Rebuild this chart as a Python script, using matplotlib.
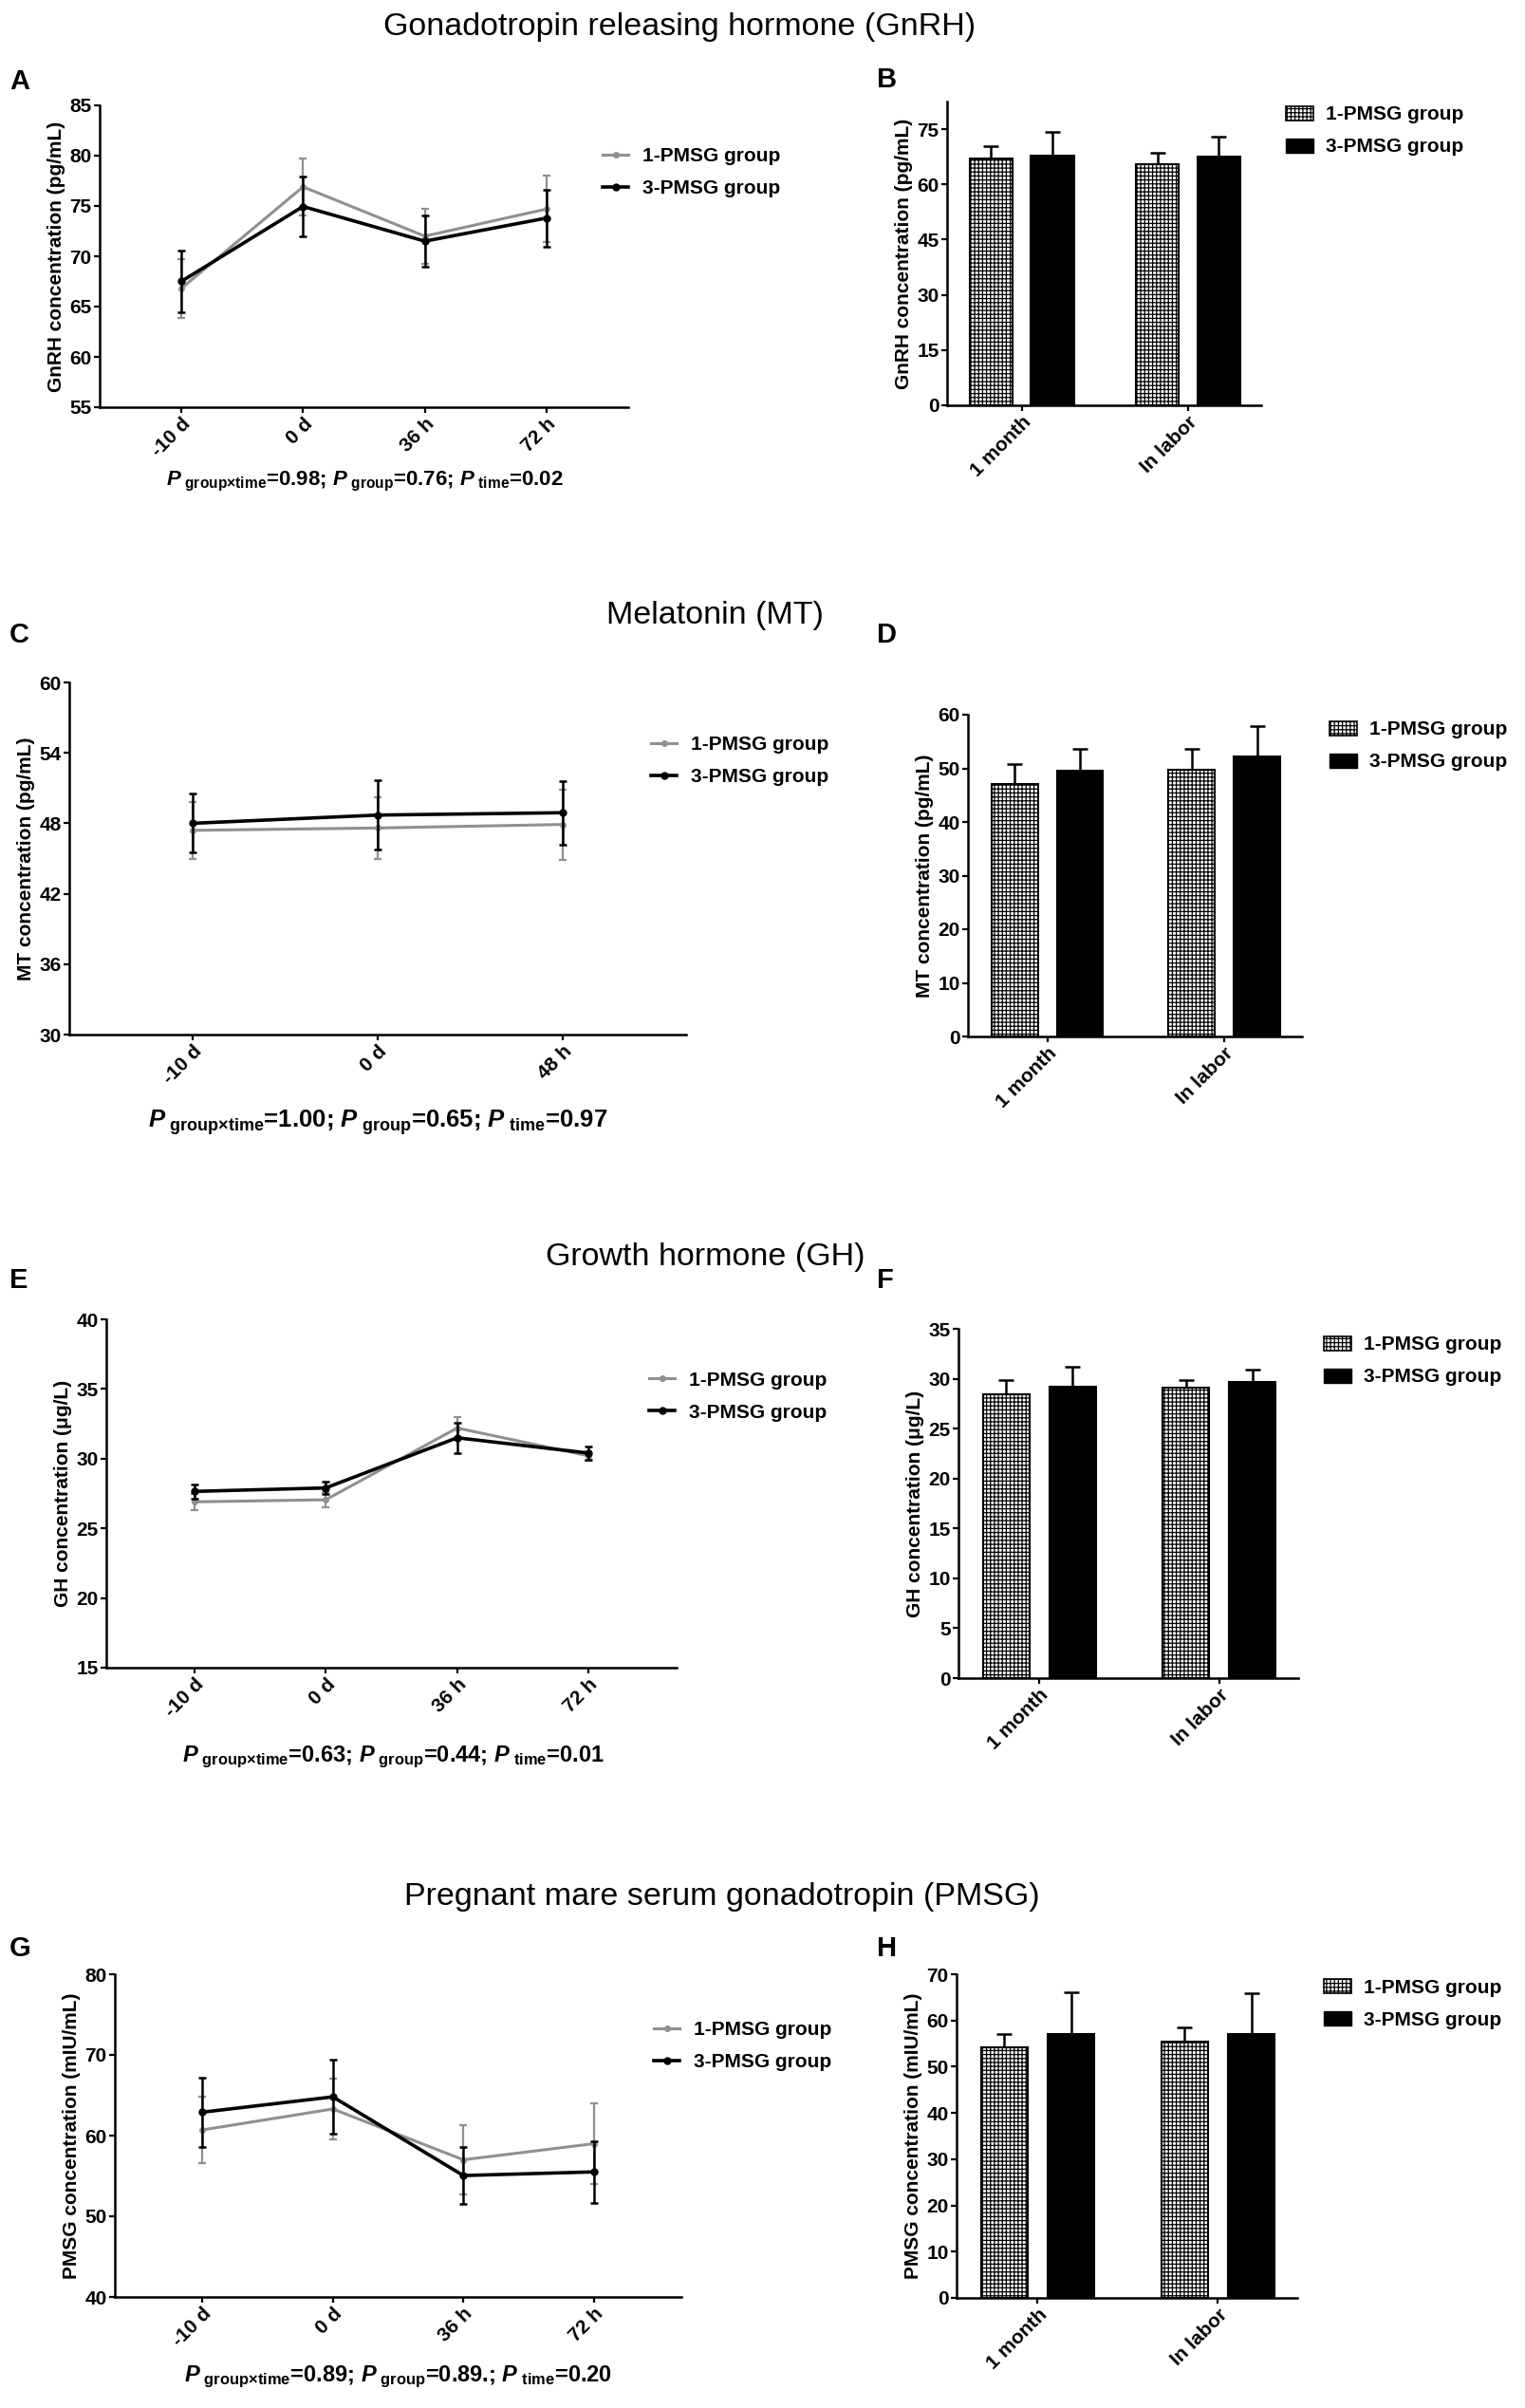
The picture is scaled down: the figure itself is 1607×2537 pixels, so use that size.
import matplotlib
matplotlib.use("Agg")
import matplotlib.pyplot as plt
import numpy as np
from matplotlib.lines import Line2D
from matplotlib.patches import Patch

plt.rcParams['font.family'] = ['Liberation Sans', 'DejaVu Sans']
plt.rcParams['mathtext.fontset'] = 'custom'
plt.rcParams['mathtext.rm'] = 'Liberation Sans:bold'
plt.rcParams['mathtext.it'] = 'Liberation Sans:italic:bold'
plt.rcParams['mathtext.bf'] = 'Liberation Sans:bold'
plt.rcParams['hatch.linewidth'] = 0.9

# ---------------- data ----------------
groups = ['1-PMSG group', '3-PMSG group']
bar_cats = ['1 month', 'In labor']

# GnRH
gnrh_times = ['-10 d', '0 d', '36 h', '72 h']
gnrh_g1 = [66.8, 76.9, 72.0, 74.7]
gnrh_g1_err = [2.9, 2.8, 2.75, 3.3]
gnrh_g3 = [67.5, 74.95, 71.5, 73.8]
gnrh_g3_err = [3.1, 3.0, 2.55, 2.85]
gnrh_bar_g1 = [67.1, 65.4]
gnrh_bar_g1_err = [3.2, 3.15]
gnrh_bar_g3 = [67.7, 67.45]
gnrh_bar_g3_err = [6.5, 5.55]

# MT
mt_times = ['-10 d', '0 d', '48 h']
mt_g1 = [47.4, 47.6, 47.9]
mt_g1_err = [2.4, 2.6, 3.0]
mt_g3 = [48.0, 48.7, 48.9]
mt_g3_err = [2.5, 2.95, 2.7]
mt_bar_g1 = [47.1, 49.8]
mt_bar_g1_err = [3.7, 3.9]
mt_bar_g3 = [49.6, 52.2]
mt_bar_g3_err = [4.1, 5.6]

# GH
gh_times = ['-10 d', '0 d', '36 h', '72 h']
gh_g1 = [26.9, 27.05, 32.2, 30.2]
gh_g1_err = [0.6, 0.55, 0.75, 0.35]
gh_g3 = [27.65, 27.9, 31.5, 30.4]
gh_g3_err = [0.5, 0.45, 1.1, 0.5]
gh_bar_g1 = [28.4, 29.06]
gh_bar_g1_err = [1.5, 0.85]
gh_bar_g3 = [29.2, 29.7]
gh_bar_g3_err = [2.0, 1.2]

# PMSG
pmsg_times = ['-10 d', '0 d', '36 h', '72 h']
pmsg_g1 = [60.7, 63.3, 57.0, 59.0]
pmsg_g1_err = [4.1, 3.8, 4.3, 5.0]
pmsg_g3 = [62.9, 64.8, 55.05, 55.5]
pmsg_g3_err = [4.3, 4.6, 3.5, 3.8]
pmsg_bar_g1 = [54.2, 55.4]
pmsg_bar_g1_err = [2.8, 3.2]
pmsg_bar_g3 = [57.0, 57.0]
pmsg_bar_g3_err = [9.15, 8.8]

titles = ['Gonadotropin releasing hormone (GnRH)', 'Melatonin (MT)',
          'Growth hormone (GH)', 'Pregnant mare serum gonadotropin (PMSG)']
ylabels = ['GnRH concentration (pg/mL)', 'MT concentration (pg/mL)',
           'GH concentration (\u03bcg/L)', 'PMSG concentration (mIU/mL)']
pvals = [('0.98', '0.76', '0.02'), ('1.00', '0.65', '0.97'),
         ('0.63', '0.44', '0.01'), ('0.89', '0.89.', '0.20')]

# ---------------- layout (pixels) ----------------
W, H = 1607, 2537
fig = plt.figure(figsize=(W / 100, H / 100), dpi=100)
GRAY = '#909090'


def add_ax(l, r, t, b):
    return fig.add_axes([l / W, 1 - b / H, (r - l) / W, (b - t) / H])


def style(ax):
    for s in ['top', 'right']:
        ax.spines[s].set_visible(False)
    for s in ['left', 'bottom']:
        ax.spines[s].set_linewidth(1.8)
    ax.tick_params(width=1.6, length=4.5, labelsize=15, pad=1.5)
    for lab in ax.get_xticklabels() + ax.get_yticklabels():
        lab.set_fontweight('bold')


def line_panel(ax, times, g1, e1, g3, e3, ylim, yticks, ylabel, leg_xy):
    x = np.arange(len(times))
    ax.errorbar(x, g1, yerr=e1, color=GRAY, lw=2.2, marker='o', ms=4,
                elinewidth=1.6, capsize=3, capthick=1.6, zorder=2)
    ax.errorbar(x, g3, yerr=e3, color='black', lw=2.6, marker='o', ms=5,
                elinewidth=1.8, capsize=3, capthick=1.8, zorder=3)
    ax.set_xlim(-0.67, len(times) - 1 + 0.67)
    ax.set_ylim(*ylim)
    ax.set_yticks(yticks)
    ax.set_xticks(x)
    ax.set_xticklabels(times, rotation=45, ha='right', rotation_mode='anchor')
    ax.set_ylabel(ylabel, fontsize=15, fontweight='bold', labelpad=3)
    style(ax)
    h = [Line2D([], [], color=GRAY, lw=2.2, marker='o', ms=4),
         Line2D([], [], color='black', lw=2.6, marker='o', ms=5)]
    ax.legend(h, groups, loc='center left',
              bbox_to_anchor=(leg_xy[0] / W, 1 - leg_xy[1] / H),
              bbox_transform=fig.transFigure, frameon=False, borderpad=0,
              borderaxespad=0, handlelength=1.3, handletextpad=0.7,
              labelspacing=0.72, prop={'weight': 'bold', 'size': 15})


def bar_panel(ax, v1, e1, v3, e3, ylim, yticks, ylabel, leg_xy):
    x = np.arange(len(bar_cats))
    w, off = 0.26, 0.185
    ax.bar(x - off, v1, w, color='white', edgecolor='black', hatch='++++',
           lw=1.5, zorder=2)
    ax.bar(x + off, v3, w, color='black', edgecolor='black', lw=1.5, zorder=2)
    ax.errorbar(x - off, v1, yerr=[np.zeros(len(v1)), e1], fmt='none',
                ecolor='black', elinewidth=1.8, capsize=6, capthick=1.8, zorder=1)
    ax.errorbar(x + off, v3, yerr=[np.zeros(len(v3)), e3], fmt='none',
                ecolor='black', elinewidth=1.8, capsize=6, capthick=1.8, zorder=1)
    ax.set_xlim(-0.45, len(bar_cats) - 1 + 0.44)
    ax.set_ylim(*ylim)
    ax.set_yticks(yticks)
    ax.set_xticks(x)
    ax.set_xticklabels(bar_cats, rotation=45, ha='right', rotation_mode='anchor')
    ax.set_ylabel(ylabel, fontsize=15, fontweight='bold', labelpad=3)
    style(ax)
    h = [Patch(facecolor='white', edgecolor='black', hatch='++++', lw=1.2),
         Patch(facecolor='black', edgecolor='black')]
    ax.legend(h, groups, loc='center left',
              bbox_to_anchor=(leg_xy[0] / W, 1 - leg_xy[1] / H),
              bbox_transform=fig.transFigure, frameon=False, borderpad=0,
              borderaxespad=0, handlelength=1.4, handleheight=0.75,
              handletextpad=0.6, labelspacing=0.72,
              prop={'weight': 'bold', 'size': 15})


def ptext(x, y, vals, size):
    s = (r'$\mathit{P}_{\ \mathrm{group×time}}$=' + vals[0] +
         r'; $\mathit{P}_{\ \mathrm{group}}$=' + vals[1] +
         r'; $\mathit{P}_{\ \mathrm{time}}$=' + vals[2])
    fig.text(x / W, 1 - y / H, s, ha='center', va='center', fontsize=size,
             fontweight='bold')


def title(x, y, s):
    fig.text(x / W, 1 - y / H, s, ha='center', va='center', fontsize=24.5)


def letter(x, y, s):
    fig.text(x / W, 1 - y / H, s, ha='left', va='center', fontsize=21,
             fontweight='bold')


# Row 1: GnRH
title(716, 29, titles[0])
letter(10, 86, 'A')
letter(924, 84, 'B')
axA = add_ax(105, 662, 111, 429)
line_panel(axA, gnrh_times, gnrh_g1, gnrh_g1_err, gnrh_g3, gnrh_g3_err,
           (55, 85), np.arange(55, 86, 5), ylabels[0], (635, 182))
axB = add_ax(998, 1329, 107, 427)
bar_panel(axB, gnrh_bar_g1, gnrh_bar_g1_err, gnrh_bar_g3, gnrh_bar_g3_err,
          (0, 82.5), np.arange(0, 76, 15), ylabels[0], (1355, 138))
ptext(384, 507, pvals[0], 16)

# Row 2: MT
title(753, 649, titles[1])
letter(10, 669, 'C')
letter(924, 669, 'D')
axC = add_ax(73, 723, 719, 1090)
line_panel(axC, mt_times, mt_g1, mt_g1_err, mt_g3, mt_g3_err,
           (30, 60), np.arange(30, 61, 6), ylabels[1], (686, 802))
axD = add_ax(1020, 1372, 753, 1092)
bar_panel(axD, mt_bar_g1, mt_bar_g1_err, mt_bar_g3, mt_bar_g3_err,
          (0, 60), np.arange(0, 61, 10), ylabels[1], (1401, 786))
ptext(398, 1183, pvals[1], 18.5)

# Row 3: GH
title(743, 1324, titles[2])
letter(10, 1349, 'E')
letter(924, 1349, 'F')
axE = add_ax(112, 713, 1390, 1757)
line_panel(axE, gh_times, gh_g1, gh_g1_err, gh_g3, gh_g3_err,
           (15, 40), np.arange(15, 41, 5), ylabels[2], (684, 1471))
axF = add_ax(1010, 1368, 1400, 1768)
bar_panel(axF, gh_bar_g1, gh_bar_g1_err, gh_bar_g3, gh_bar_g3_err,
          (0, 35), np.arange(0, 36, 5), ylabels[2], (1395, 1434))
ptext(414, 1851, pvals[2], 17)

# Row 4: PMSG
title(761, 1998, titles[3])
letter(10, 2053, 'G')
letter(924, 2053, 'H')
axG = add_ax(121, 718, 2080, 2420)
line_panel(axG, pmsg_times, pmsg_g1, pmsg_g1_err, pmsg_g3, pmsg_g3_err,
           (40, 80), np.arange(40, 81, 10), ylabels[3], (689, 2156))
axH = add_ax(1008, 1367, 2080, 2421)
bar_panel(axH, pmsg_bar_g1, pmsg_bar_g1_err, pmsg_bar_g3, pmsg_bar_g3_err,
          (0, 70), np.arange(0, 71, 10), ylabels[3], (1395, 2111))
ptext(420, 2504, pvals[3], 17)

fig.savefig('out.png', dpi=100, facecolor='white')
